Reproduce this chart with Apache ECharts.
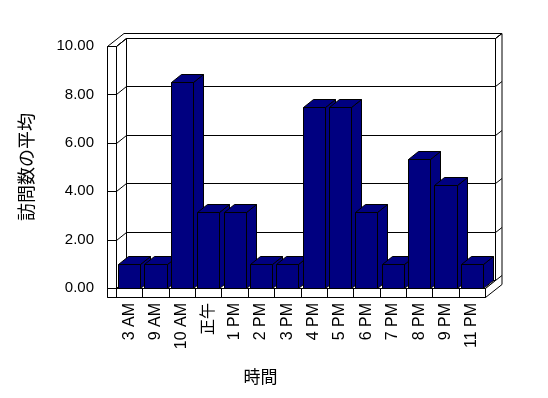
<!DOCTYPE html>
<html>
<head>
<meta charset="utf-8">
<style>
html,body{margin:0;padding:0;background:#fff;}
#chart{width:548px;height:398px;}
</style>
<script src="https://cdn.jsdelivr.net/npm/echarts@6/dist/echarts.min.js"></script>
</head>
<body>
<div id="chart"></div>
<script>
const categories = ['3 AM','9 AM','10 AM','正午','1 PM','2 PM','3 PM','4 PM','5 PM','6 PM','7 PM','8 PM','9 PM','11 PM'];
const values = [1, 1, 8.5, 3.15, 3.15, 1, 1, 7.5, 7.5, 3.15, 1, 5.33, 4.25, 1];
const yTicks = [0, 2, 4, 6, 8, 10];
const xAxisName = '時間';
const yAxisName = '訪問数の平均';

const DX = 10, DY = -8;     // depth of the plot box
const BX = 6.5, BY = -5;    // back wall thickness
const T = 9;                // left wall / floor thickness
const BAR_RATIO = 0.84;
const BAR_COLOR = '#000080';
const LINE = '#000';
const FONT = "'Liberation Sans', Arial, 'Noto Sans CJK JP', sans-serif";
const CJK = "'Noto Sans CJK JP', sans-serif";

const p = v => Math.round(v) + 0.5;

function frameItem(params, api) {
  const n = categories.length;
  const bw = api.size([1, 0])[0];
  const xL = p(api.coord([0, 0])[0] - bw / 2);
  const xR = p(api.coord([n - 1, 0])[0] + bw / 2);
  const yTop = p(api.coord([0, yTicks[yTicks.length - 1]])[1]);
  const yBot = p(api.coord([0, yTicks[0]])[1]);
  const st = {fill: '#fff', stroke: LINE, lineWidth: 1};
  const ln = {stroke: LINE, lineWidth: 1};
  const children = [];
  const poly = (pts, style) => children.push({type: 'polygon', shape: {points: pts}, style: style || st});
  const line = (x1, y1, x2, y2) => children.push({type: 'line', shape: {x1, y1, x2, y2}, style: ln});
  poly([[xL - T, yTop], [xL, yTop], [xL + DX, yTop + DY], [xR + DX, yTop + DY],
        [xR + DX + BX, yTop + DY + BY], [xL - T + DX + BX, yTop + DY + BY]]);
  poly([[xL + DX, yTop + DY], [xR + DX, yTop + DY], [xR + DX, yBot + DY], [xL + DX, yBot + DY]]);
  poly([[xL, yTop], [xL + DX, yTop + DY], [xL + DX, yBot + DY], [xL, yBot]]);
  poly([[xL - T, yTop], [xL, yTop], [xL, yBot + T], [xL - T, yBot + T]]);
  poly([[xL, yBot], [xR, yBot], [xR + DX, yBot + DY], [xL + DX, yBot + DY]]);
  poly([[xL - T, yBot], [xR, yBot], [xR, yBot + T], [xL - T, yBot + T]]);
  poly([[xR, yBot], [xR + DX, yBot + DY], [xR + DX, yTop + DY], [xR + DX + BX, yTop + DY + BY],
        [xR + DX + BX, yBot + T + DY + BY], [xR, yBot + T]]);
  yTicks.forEach(v => {
    const y = p(api.coord([0, v])[1]);
    line(xL - T, y, xL, y);
    line(xL, y, xL + DX, y + DY);
    line(xL + DX, y + DY, xR + DX, y + DY);
    line(xR + DX, y + DY, xR + DX + BX, y + DY + BY);
  });
  for (let i = 0; i <= n; i++) {
    const x = p(api.coord([0, 0])[0] - bw / 2 + i * bw);
    line(x, yBot, x, yBot + T);
  }
  return {type: 'group', children};
}

function barItem(params, api) {
  const i = api.value(0), v = api.value(1);
  const c0 = api.coord([i, 0]);
  const c1 = api.coord([i, v]);
  const w = api.size([1, 0])[0] * BAR_RATIO;
  const l = p(c0[0] - w / 2), r = p(c0[0] + w / 2);
  const yt = p(c1[1]), yb = p(c0[1]);
  const st = {fill: BAR_COLOR, stroke: LINE, lineWidth: 1};
  return {
    type: 'group',
    children: [
      {type: 'polygon', shape: {points: [[r, yt], [r + DX, yt + DY], [r + DX, yb + DY], [r, yb]]}, style: st},
      {type: 'polygon', shape: {points: [[l, yt], [r, yt], [r + DX, yt + DY], [l + DX, yt + DY]]}, style: st},
      {type: 'polygon', shape: {points: [[l, yt], [r, yt], [r, yb], [l, yb]]}, style: st}
    ]
  };
}

const chart = echarts.init(document.getElementById('chart'), null, {renderer: 'canvas'});
chart.setOption({
  backgroundColor: '#fff',
  animation: false,
  grid: {left: 116, right: 63, top: 46, bottom: 110},
  xAxis: {
    type: 'category',
    data: categories,
    axisLine: {show: false},
    axisTick: {show: false},
    axisLabel: {interval: 0, rotate: 90, margin: 15, fontSize: 16, color: '#000', fontFamily: FONT, padding: [0, 0, 12, 0]},
    name: xAxisName,
    nameLocation: 'middle',
    nameGap: 80,
    nameTextStyle: {fontSize: 17, color: '#000', fontFamily: CJK, padding: [0, 80, 0, 0]}
  },
  yAxis: {
    type: 'value',
    min: yTicks[0],
    max: yTicks[yTicks.length - 1],
    interval: yTicks[1] - yTicks[0],
    axisLine: {show: false},
    axisTick: {show: false},
    splitLine: {show: false},
    axisLabel: {margin: 22, fontSize: 15, color: '#000', fontFamily: FONT, formatter: v => v.toFixed(2)},
    name: yAxisName,
    nameLocation: 'middle',
    nameRotate: 90,
    nameGap: 81,
    nameTextStyle: {fontSize: 18, color: '#000', fontFamily: CJK}
  },
  series: [
    {type: 'custom', renderItem: frameItem, data: [[0, 0]], z: 1, silent: true, clip: false},
    {type: 'custom', renderItem: barItem, data: values.map((v, i) => [i, v]), z: 2, silent: true, clip: false}
  ]
});
</script>
</body>
</html>
